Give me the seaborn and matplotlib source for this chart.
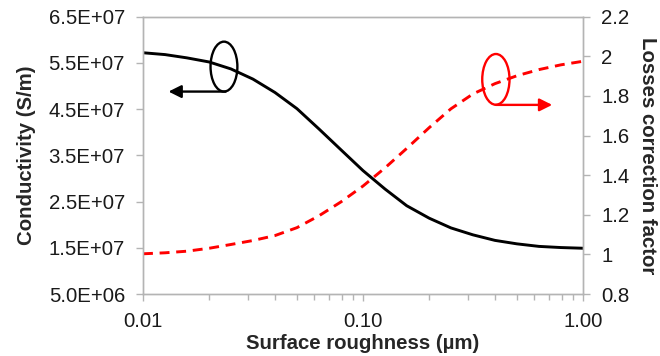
import seaborn as sns
import matplotlib.pyplot as plt
import pandas as pd
from matplotlib.patches import Ellipse
from matplotlib.ticker import FixedLocator, FuncFormatter, LogLocator, NullFormatter

# values
roughness = [0.01, 0.0126, 0.0158, 0.02, 0.0251, 0.0316, 0.0398, 0.0501, 0.0631, 0.0794,
             0.1, 0.126, 0.158, 0.2, 0.251, 0.316, 0.398, 0.501, 0.631, 0.794, 1.0]
conductivity = [5.72e7, 5.68e7, 5.61e7, 5.52e7, 5.37e7, 5.15e7, 4.86e7, 4.51e7, 4.07e7, 3.62e7,
                3.17e7, 2.77e7, 2.41e7, 2.14e7, 1.93e7, 1.78e7, 1.66e7, 1.585e7, 1.53e7, 1.505e7, 1.49e7]
correction = [1.003, 1.008, 1.016, 1.031, 1.050, 1.070, 1.095, 1.135, 1.195, 1.265,
              1.345, 1.437, 1.535, 1.640, 1.735, 1.810, 1.862, 1.902, 1.933, 1.957, 1.975]

left_ticks = [5.0e6, 1.5e7, 2.5e7, 3.5e7, 4.5e7, 5.5e7, 6.5e7]
right_ticks = [0.8, 1.0, 1.2, 1.4, 1.6, 1.8, 2.0, 2.2]
x_ticks = [0.01, 0.1, 1.0]

df = pd.DataFrame({'rough': roughness, 'sigma': conductivity, 'k': correction})

sns.set_style('white')
plt.rcParams['font.family'] = ['Liberation Sans', 'DejaVu Sans']

fig = plt.figure(figsize=(6.6, 3.56), dpi=100)
ax = fig.add_axes([143 / 660, 1 - 294 / 356, 440 / 660, 277.3 / 356])
ax2 = ax.twinx()

sns.lineplot(data=df, x='rough', y='sigma', ax=ax, color='black', linewidth=2.1)
sns.lineplot(data=df, x='rough', y='k', ax=ax2, color='red', linewidth=2.1)
ax2.get_lines()[0].set_dashes((3.4, 2.3))

ax.set_xscale('log')
ax.set_xlim(0.01, 1.0)
ax.set_ylim(5.0e6, 6.5e7)
ax2.set_ylim(0.8, 2.2)

ax.xaxis.set_major_locator(FixedLocator(x_ticks))
ax.xaxis.set_major_formatter(FuncFormatter(lambda v, p: f'{v:.2f}'))
ax.xaxis.set_minor_locator(LogLocator(base=10, subs=range(2, 10)))
ax.xaxis.set_minor_formatter(NullFormatter())

ax.yaxis.set_major_locator(FixedLocator(left_ticks))
ax.yaxis.set_major_formatter(FuncFormatter(lambda v, p: f'{v:.1E}'))
ax2.yaxis.set_major_locator(FixedLocator(right_ticks))
ax2.yaxis.set_major_formatter(FuncFormatter(lambda v, p: f'{v:g}'))

grey = '#b4b4b4'
for a in (ax, ax2):
    for s in a.spines.values():
        s.set_color(grey)
        s.set_linewidth(1.0)
    a.tick_params(colors=grey, labelcolor='#1a1a1a', labelsize=14.7, length=5, width=1, pad=8)
    a.tick_params(which='minor', colors=grey, length=4, width=1)
ax.tick_params(axis='y', left=True)
ax.tick_params(axis='x', bottom=True, which='both')
ax2.tick_params(axis='y', right=True)

ax.set_xlabel('Surface roughness (µm)', fontsize=14.7, fontweight='bold', labelpad=2)
ax.set_ylabel('Conductivity (S/m)', fontsize=14.7, fontweight='bold', labelpad=9)
ax2.set_ylabel('Losses correction factor', fontsize=14.7, fontweight='bold', rotation=270, labelpad=20)

# ellipse markers with arrows pointing to each curve's axis
ax.add_patch(Ellipse((0.184, 0.82), 0.061, 0.18, transform=ax.transAxes,
                     fill=False, edgecolor='black', linewidth=1.7))
ax.annotate('', xy=(0.058, 0.73), xytext=(0.188, 0.73), xycoords='axes fraction',
            arrowprops=dict(arrowstyle='-|>', color='black', lw=1.7, mutation_scale=19,
                            shrinkA=0, shrinkB=0))
ax2.add_patch(Ellipse((0.802, 0.774), 0.062, 0.183, transform=ax2.transAxes,
                      fill=False, edgecolor='red', linewidth=1.7))
ax2.annotate('', xy=(0.93, 0.682), xytext=(0.802, 0.682), xycoords='axes fraction',
             arrowprops=dict(arrowstyle='-|>', color='red', lw=1.7, mutation_scale=19,
                             shrinkA=0, shrinkB=0))

fig.savefig('out.png', dpi=100)
